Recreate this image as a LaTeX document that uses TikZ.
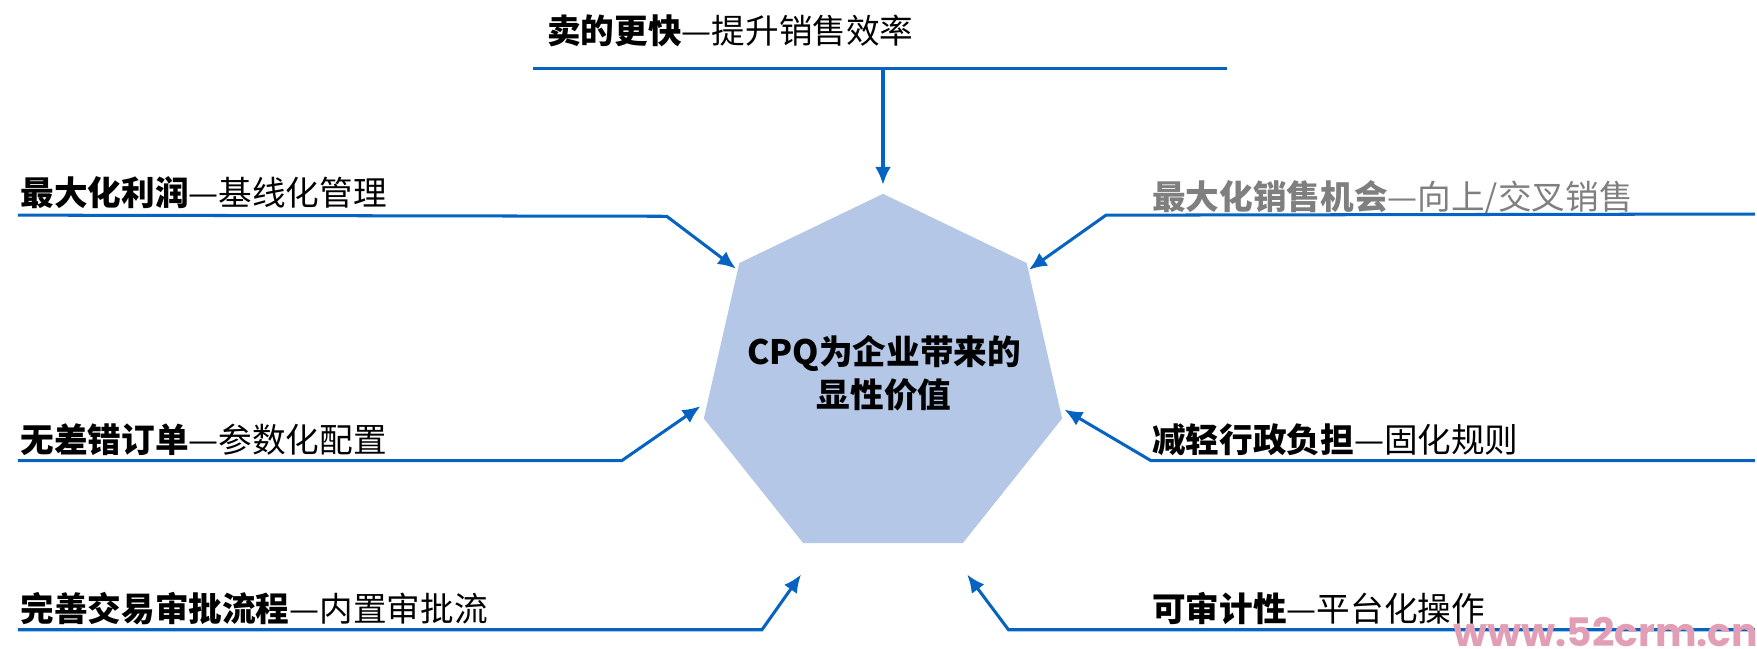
\documentclass[tikz,border=0pt]{standalone}
\usepackage{fontspec}
\setmainfont{Noto Sans CJK SC}
\newfontfamily\wmfont{Poppins}
\usetikzlibrary{shapes.geometric, calc, arrows.meta}

\definecolor{lineblue}{RGB}{5,99,193}
\definecolor{hexfill}{RGB}{180,199,231}
\definecolor{labelgray}{RGB}{127,127,127}
\definecolor{wmpink}{RGB}{226,158,180}

\begin{document}
\begin{tikzpicture}[x=0.5pt, y=-0.5pt,
	tag/.style={anchor=base west, inner sep=0pt, font=\fontsize{15}{18}\selectfont},
	rule/.style={draw=lineblue, line width=1.35pt},
	link/.style={rule, -{Latex[length=8pt,width=7pt]}}]
	\useasboundingbox (0,0) rectangle (1568,579);
	
	% Center
	\node[regular polygon, regular polygon sides=7, minimum size=164pt, inner sep=0pt, outer sep=0pt,
		fill=hexfill] (hex) at (788,337) {};
	\node[align=center, inner sep=0pt, font=\bfseries\fontsize{15}{19}\selectfont] (value) at (789,333)
		{CPQ为企业带来的\\显性价值};
	
	% Top
	\node[tag] (fast) at (488,39) {\textbf{卖的更快}—提升销售效率};
	\coordinate (fastL) at (476,61);
	\coordinate (fastR) at (1095,61);
	\coordinate (fastM) at (788,61);
	\draw[rule] (fastL) -- (fastR);
	\draw[link] (fastM) -- ($(hex.corner 1)+(0,-8)$);
	
	% Left top
	\node[tag] (profit) at (18,183) {\textbf{最大化利润}—基线化管理};
	\coordinate (profitL) at (16,192);
	\coordinate (profitB) at (595,193);
	\draw[link] (profitL) -- (profitB) -- ($(hex.corner 2)+(-3,5)$);
	
	% Right top
	\node[tag, text=labelgray] (chance) at (1028,187) {\textbf{最大化销售机会}—向上/交叉销售};
	\coordinate (chanceR) at (1566,191);
	\coordinate (chanceB) at (987,192);
	\draw[link] (chanceR) -- (chanceB) -- ($(hex.corner 7)+(2,6)$);
	
	% Left middle
	\node[tag] (order) at (18,404) {\textbf{无差错订单}—参数化配置};
	\coordinate (orderL) at (16,411);
	\coordinate (orderB) at (555,411);
	\draw[link] (orderL) -- (orderB) -- ($(hex.corner 3)+(-3,-11)$);
	
	% Right middle
	\node[tag] (admin) at (1028,404) {\textbf{减轻行政负担}—固化规则};
	\coordinate (adminR) at (1566,411);
	\coordinate (adminB) at (1027,411);
	\draw[link] (adminR) -- (adminB) -- ($(hex.corner 6)+(2,-8)$);
	
	% Bottom left
	\node[tag] (flow) at (18,555) {\textbf{完善交易审批流程}—内置审批流};
	\coordinate (flowL) at (16,562);
	\coordinate (flowB) at (680,562);
	\draw[link] (flowL) -- (flowB) -- ($(hex.corner 4)+(-2,28)$);
	
	% Bottom right
	\node[tag] (audit) at (1028,555) {\textbf{可审计性}—平台化操作};
	\coordinate (auditR) at (1566,562);
	\coordinate (auditB) at (900,562);
	\draw[link] (auditR) -- (auditB) -- ($(hex.corner 5)+(4,28)$);
	
	% Watermark
	\node[anchor=base west, inner sep=0pt, text=wmpink, font=\wmfont\bfseries\fontsize{17.5}{20}\selectfont]
		(mark) at (1297,577) {www.52crm.cn};
	
\end{tikzpicture}
\end{document}
